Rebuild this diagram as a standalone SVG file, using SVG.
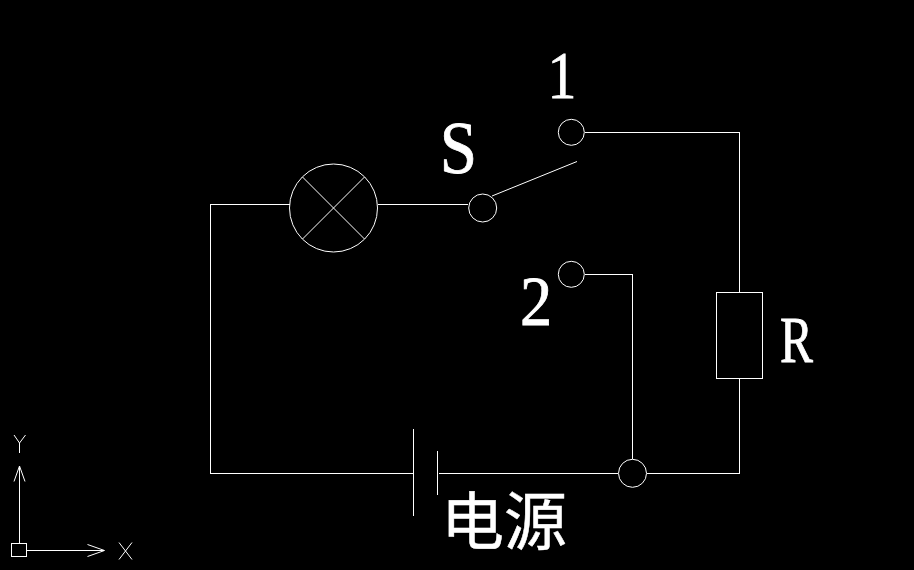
<svg xmlns="http://www.w3.org/2000/svg" width="914" height="570" viewBox="0 0 914 570">
<style>
.w{fill:none;stroke:#fff;stroke-width:1}
.t{fill:#fff;stroke:#fff;stroke-width:.8;font-family:"Liberation Serif","Noto Sans CJK SC",serif}
</style>
<rect width="914" height="570" fill="#000"/>
<g id="connectors" class="w" shape-rendering="crispEdges">
<path d="M289.500 204.500H210.500V473.500H413.500"/>
<path d="M378 204.500H468"/>
<path d="M585 132.500H739.500V292"/>
<path d="M585 274.500H632.500V459"/>
<path d="M739.500 379V473.500H647"/>
<path d="M438.500 473.500H618"/>
</g>
<g id="lamp" class="w"><circle cx="333.500" cy="208" r="44"/><path d="M302.500 177L364.500 239M364.500 177L302.500 239"/></g>
<g id="switch-s" class="w"><circle cx="482.700" cy="208" r="14"/><path d="M492 196L577 161.500"/></g>
<g id="contact-1" class="w"><circle cx="571.300" cy="132.300" r="13"/></g>
<g id="contact-2" class="w"><circle cx="571.300" cy="274.300" r="13"/></g>
<g id="junction" class="w"><circle cx="632.500" cy="473.300" r="14"/></g>
<g id="resistor" class="w" shape-rendering="crispEdges"><rect x="716.500" y="292.500" width="46" height="86"/></g>
<g id="battery" class="w" shape-rendering="crispEdges"><path d="M413.500 429V516M437.500 451V495"/></g>
<g id="ucs" shape-rendering="crispEdges">
<rect x="11.500" y="543.500" width="15" height="13" class="w"/>
<path class="w" d="M19.500 543V466M26 550.500H104"/>
</g>
<g id="ucs-heads" class="w"><path d="M14 481.500L19.500 466L25 481.500M87.500 544.500L104.500 550.500L87.500 556.500"/>
<path d="M14 435L19.500 443L25.500 435M19.500 443V453M119 542.500L132 559.500M132 542.500L119 559.500"/></g>
<g id="labels">
<text class="t" transform="translate(562 98) scale(.85 1)" font-size="68" text-anchor="middle">1</text>
<text class="t" transform="translate(458.500 173) scale(.92 1)" font-size="73" text-anchor="middle">S</text>
<text class="t" transform="translate(536 325) scale(.92 1)" font-size="70" text-anchor="middle">2</text>
<text class="t" transform="translate(796.500 362) scale(.76 1)" font-size="65" text-anchor="middle">R</text>
<text class="t" x="441" y="544" font-size="63" style="stroke-width:.5">电源</text>
</g>
</svg>
